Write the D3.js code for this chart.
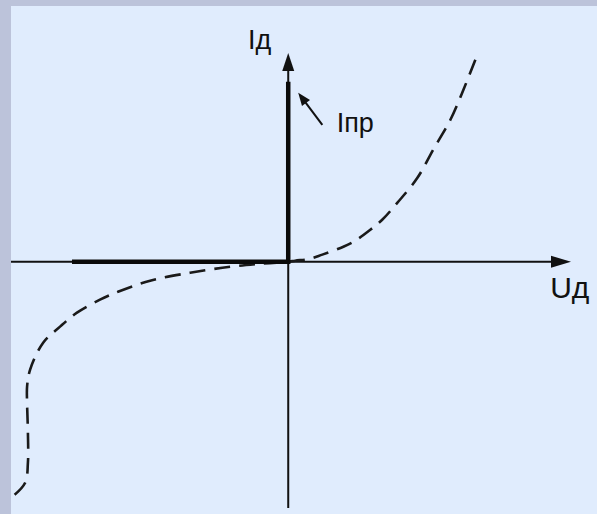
<!DOCTYPE html>
<html>
<head>
<meta charset="utf-8">
<script src="https://cdn.jsdelivr.net/npm/d3@7"></script>
<style>
  html, body { margin: 0; padding: 0; background: #bcc3da; }
  svg { display: block; }
  text { font-family: "Liberation Sans", Arial, sans-serif; fill: #111; }
</style>
</head>
<body>
<script>
// diode I-V characteristic (arbitrary units)
const curveU = [6.75, 6.32, 5.85, 5.23, 4.66, 3.94, 3.39, 2.96, 2.42, 1.99, 1.23, 0.79, 0.25, 0,
  -1.01, -2.09, -3.54, -4.98, -6.14, -6.79, -7.62, -8.23, -8.84, -9.31, -9.42, -9.42, -9.39, -9.39, -9.49, -9.96, -10.2]
const curveI = [9.68, 8.24, 6.80, 5.37, 4.02, 2.83, 2.01, 1.53, 1.01, 0.72, 0.34, 0.14, 0.05, 0,
  -0.10, -0.24, -0.53, -0.91, -1.44, -1.82, -2.44, -3.11, -3.88, -5.17, -5.99, -6.76, -8.19, -9.63, -10.59, -11.26, -11.45]

// ideal characteristic (thick): forward current axis and reverse leg
const idealU = [-7.8, 0, 0]
const idealI = [0, 0, 8.62]

const labels = [
  {text: 'Iд', u: -1.45, i: 10.2, size: 27},
  {text: 'Iпр', u: 1.75, i: 6.2, size: 27},
  {text: 'Uд', u: 9.45, i: -1.75, size: 30},
]
const pointerFrom = [1.23, 6.56]
const pointerTo = [0.36, 8.1]

const width = 597
const height = 514

const svg = d3.select('body').append('svg')
  .attr('width', width)
  .attr('height', height)

svg.append('defs')
  .append('clipPath')
  .attr('id', 'panel')
  .append('rect')
  .attr('x', 11).attr('y', 6)
  .attr('width', width - 11).attr('height', height - 6)

svg.append('rect')
  .attr('x', 11).attr('y', 6)
  .attr('width', width - 11).attr('height', height - 6)
  .attr('fill', '#e0ecfd')

const x = d3.scaleLinear().domain([-10, 10.2]).range([11, 571])
const y = d3.scaleLinear().domain([-11.8, 10]).range([508, 53])

const g = svg.append('g')
  .attr('clip-path', 'url(#panel)')

// axes
g.append('line')
  .attr('x1', x(-10)).attr('x2', x(9.5))
  .attr('y1', y(0)).attr('y2', y(0))
  .attr('stroke', '#111').attr('stroke-width', 2)

g.append('line')
  .attr('x1', x(0)).attr('x2', x(0))
  .attr('y1', y(-11.8)).attr('y2', y(9.3))
  .attr('stroke', '#111').attr('stroke-width', 2)

// arrowheads
const x0 = x(0), y0 = y(0)
g.append('path')
  .attr('d', `M${x(10.2)},${y0} L${x(10.2) - 20},${y0 - 6} L${x(10.2) - 20},${y0 + 6} Z`)
  .attr('fill', '#111')
g.append('path')
  .attr('d', `M${x0},${y(10)} L${x0 - 6},${y(10) + 18} L${x0 + 6},${y(10) + 18} Z`)
  .attr('fill', '#111')

// dashed real characteristic
const line = d3.line()
  .x(d => x(d[0]))
  .y(d => y(d[1]))
  .curve(d3.curveCatmullRom.alpha(0.5))

g.append('path')
  .datum(d3.zip(curveU, curveI))
  .attr('d', line)
  .attr('fill', 'none')
  .attr('stroke', '#1a1a1a')
  .attr('stroke-width', 2.6)
  .attr('stroke-dasharray', '16 9')

// thick ideal characteristic
g.append('path')
  .datum(d3.zip(idealU, idealI))
  .attr('d', d3.line().x(d => x(d[0])).y(d => y(d[1])))
  .attr('fill', 'none')
  .attr('stroke', '#0a0a0a')
  .attr('stroke-width', 4.5)

// pointer to Iпр
const px1 = x(pointerFrom[0]), py1 = y(pointerFrom[1])
const px2 = x(pointerTo[0]), py2 = y(pointerTo[1])
const ang = Math.atan2(py2 - py1, px2 - px1)
g.append('line')
  .attr('x1', px1).attr('y1', py1)
  .attr('x2', px2 - 8 * Math.cos(ang)).attr('y2', py2 - 8 * Math.sin(ang))
  .attr('stroke', '#111').attr('stroke-width', 2)
const hl = 13, hw = 5
g.append('path')
  .attr('d', `M${px2},${py2}` +
    ` L${px2 - hl * Math.cos(ang) + hw * Math.sin(ang)},${py2 - hl * Math.sin(ang) - hw * Math.cos(ang)}` +
    ` L${px2 - hl * Math.cos(ang) - hw * Math.sin(ang)},${py2 - hl * Math.sin(ang) + hw * Math.cos(ang)} Z`)
  .attr('fill', '#111')

svg.selectAll('.label')
  .data(labels)
  .join('text')
  .attr('class', 'label')
  .attr('x', d => x(d.u))
  .attr('y', d => y(d.i))
  .attr('font-size', d => d.size)
  .text(d => d.text)
</script>
</body>
</html>
